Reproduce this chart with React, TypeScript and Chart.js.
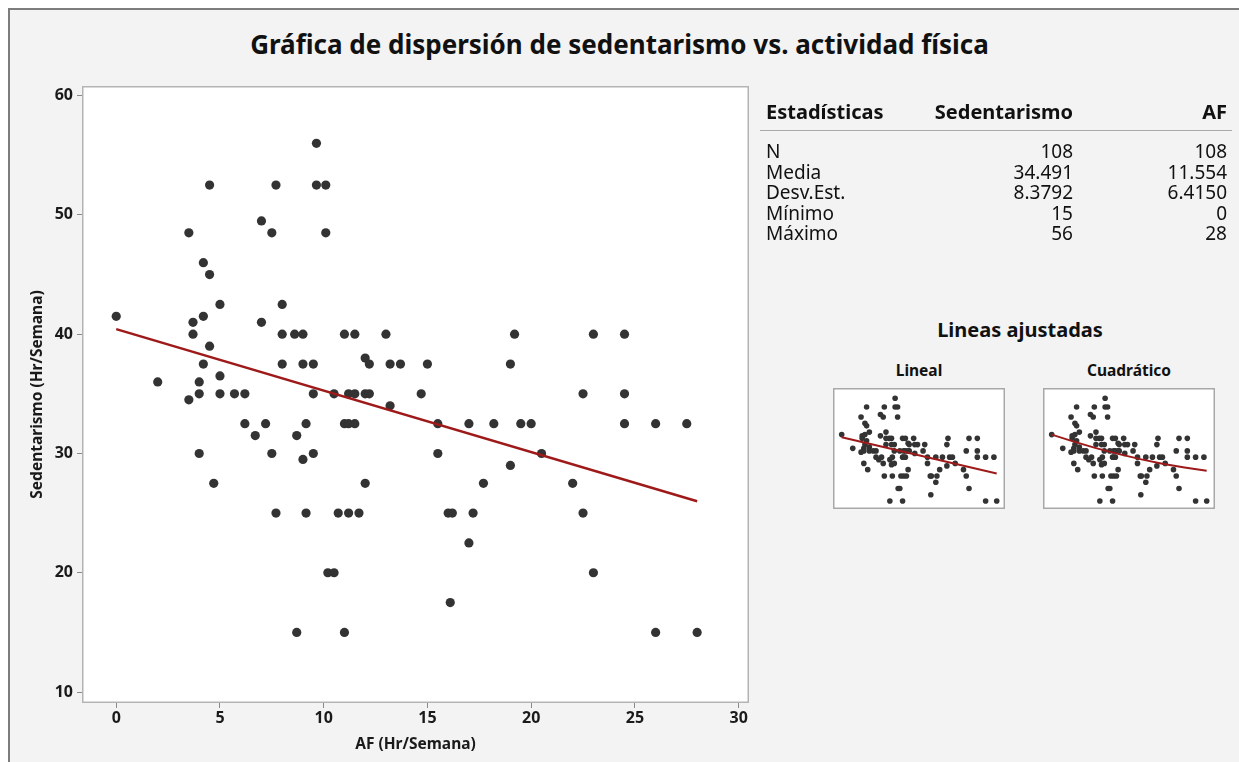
import React, { useEffect, useRef } from "react";
import { Chart, registerables } from "chart.js";
Chart.register(...registerables);

const FONT = "'Noto Sans', 'Open Sans', sans-serif";

const xTicks = [0, 5, 10, 15, 20, 25, 30];
const yTicks = [10, 20, 30, 40, 50, 60];

const afValues = [0, 2, 3.5, 3.5, 3.7, 3.7, 4, 4, 4, 4.2, 4.2, 4.2, 4.5, 4.5, 4.5, 4.7, 5, 5, 5, 5.7, 6.2, 6.2, 6.7, 7, 7, 7.2, 7.5, 7.5, 7.7, 7.7, 8, 8, 8, 8.6, 8.7, 8.7, 9, 9, 9, 9.15, 9.15, 9.5, 9.5, 9.5, 9.65, 9.65, 10.1, 10.1, 10.2, 10.5, 10.5, 10.7, 11, 11, 11, 11.2, 11.2, 11.2, 11.5, 11.5, 11.5, 11.7, 12, 12, 12, 12.2, 12.2, 13, 13.2, 13.2, 13.7, 14.7, 15, 15.5, 15.5, 16, 16.2, 16.1, 17, 17, 17.2, 17.7, 18.2, 19, 19, 19.2, 19.5, 20, 20.5, 22, 22.5, 22.5, 23, 23, 24.5, 24.5, 24.5, 26, 26, 27.5, 28];
const sedValues = [41.5, 36, 48.5, 34.5, 41, 40, 36, 35, 30, 46, 41.5, 37.5, 52.5, 45, 39, 27.5, 42.5, 36.5, 35, 35, 35, 32.5, 31.5, 49.5, 41, 32.5, 48.5, 30, 52.5, 25, 42.5, 40, 37.5, 40, 31.5, 15, 40, 37.5, 29.5, 32.5, 25, 37.5, 35, 30, 56, 52.5, 52.5, 48.5, 20, 20, 35, 25, 40, 32.5, 15, 35, 32.5, 25, 40, 35, 32.5, 25, 38, 35, 27.5, 37.5, 35, 40, 37.5, 34, 37.5, 35, 37.5, 32.5, 30, 25, 25, 17.5, 32.5, 22.5, 25, 27.5, 32.5, 37.5, 29, 40, 32.5, 32.5, 30, 27.5, 35, 25, 40, 20, 40, 35, 32.5, 32.5, 15, 32.5, 15];

const linFitX = [0, 28];
const linFitY = [40.43, 26.0];
const quadFitX = [0, 4, 8, 12, 16, 20, 24, 28];
const quadFitY = [41.5, 38.7, 36.1, 33.8, 31.7, 29.9, 28.4, 27.1];

const statNames = ["N", "Media", "Desv.Est.", "Mínimo", "Máximo"];
const statSed = ["108", "34.491", "8.3792", "15", "56"];
const statAF = ["108", "11.554", "6.4150", "0", "28"];

const POINT_COLOR = "#333333";
const LINE_COLOR = "#9e1a1a";

const pts = (xs: number[], ys: number[]) => xs.map((x, i) => ({ x, y: ys[i] }));

const framePlugin = (bg: string, border: string) => ({
  id: "frame",
  beforeDraw(chart: any) {
    const { ctx, chartArea: a } = chart;
    ctx.save();
    ctx.fillStyle = bg;
    ctx.fillRect(a.left, a.top, a.right - a.left, a.bottom - a.top);
    ctx.restore();
  },
  afterDraw(chart: any) {
    const { ctx, chartArea: a } = chart;
    ctx.save();
    ctx.strokeStyle = border;
    ctx.lineWidth = 1.5;
    ctx.strokeRect(a.left + 0.75, a.top + 0.75, a.right - a.left - 1.5, a.bottom - a.top - 1.5);
    ctx.restore();
  },
});

function MainChart() {
  const ref = useRef<HTMLCanvasElement>(null);
  useEffect(() => {
    const chart = new Chart(ref.current as HTMLCanvasElement, {
      type: "scatter",
      data: {
        datasets: [
          {
            type: "line",
            data: pts(linFitX, linFitY),
            borderColor: LINE_COLOR,
            borderWidth: 2.5,
            pointRadius: 0,
            fill: false,
          } as any,
          {
            data: pts(afValues, sedValues),
            backgroundColor: POINT_COLOR,
            borderColor: POINT_COLOR,
            pointRadius: 4.6,
            borderWidth: 0,
          },
        ],
      },
      options: {
        animation: false,
        responsive: false,
        events: [],
        layout: { autoPadding: false, padding: { top: 86, right: 21, left: 0, bottom: 0 } },
        plugins: { legend: { display: false }, tooltip: { enabled: false } },
        scales: {
          x: {
            type: "linear",
            min: -1.65,
            max: 30.5,
            afterBuildTicks: (s: any) => { s.ticks = xTicks.map((v) => ({ value: v })); },
            afterFit: (s: any) => { s.height = 59; },
            grid: { drawOnChartArea: false, drawTicks: true, tickLength: 5, color: "#8a8a8a" },
            border: { display: false },
            ticks: { font: { family: FONT, size: 16, weight: "bold" }, color: "#1a1a1a", padding: 1, maxRotation: 0 },
            title: { display: true, text: "AF (Hr/Semana)", font: { family: FONT, size: 15.5, weight: "bold" }, color: "#1a1a1a", padding: { top: 0, bottom: 8 } },
          },
          y: {
            type: "linear",
            min: 9.08,
            max: 60.81,
            afterBuildTicks: (s: any) => { s.ticks = yTicks.map((v) => ({ value: v })); },
            afterFit: (s: any) => { s.width = 82; },
            grid: { drawOnChartArea: false, drawTicks: true, tickLength: 5, color: "#8a8a8a" },
            border: { display: false },
            ticks: { font: { family: FONT, size: 16, weight: "bold" }, color: "#1a1a1a", padding: 4 },
            title: { display: true, text: "Sedentarismo (Hr/Semana)", font: { family: FONT, size: 15.5, weight: "bold" }, color: "#1a1a1a", padding: { top: 28, bottom: 0 } },
          },
        },
      },
      plugins: [framePlugin("#ffffff", "#b4b4b4")],
    });
    return () => chart.destroy();
  }, []);
  return <canvas ref={ref} width={770} height={762} style={{ position: "absolute", left: 0, top: 0 }} />;
}

function SmallChart({ fitX, fitY, left }: { fitX: number[]; fitY: number[]; left: number }) {
  const ref = useRef<HTMLCanvasElement>(null);
  useEffect(() => {
    const chart = new Chart(ref.current as HTMLCanvasElement, {
      type: "scatter",
      data: {
        datasets: [
          {
            type: "line",
            data: pts(fitX, fitY),
            borderColor: LINE_COLOR,
            borderWidth: 2,
            pointRadius: 0,
            fill: false,
          } as any,
          {
            data: pts(afValues, sedValues),
            backgroundColor: POINT_COLOR,
            pointRadius: 2.8,
            borderWidth: 0,
          },
        ],
      },
      options: {
        animation: false,
        responsive: false,
        events: [],
        layout: { autoPadding: false, padding: 0 },
        plugins: { legend: { display: false }, tooltip: { enabled: false } },
        scales: {
          x: { type: "linear", display: false, min: -1.57, max: 29.5 },
          y: { type: "linear", display: false, min: 11.8, max: 60.1 },
        },
      },
      plugins: [framePlugin("#ffffff", "#a8a8a8")],
    });
    return () => chart.destroy();
  }, []);
  return <canvas ref={ref} width={172} height={121} style={{ position: "absolute", left, top: 388 }} />;
}

const abs = (style: React.CSSProperties): React.CSSProperties => ({ position: "absolute", whiteSpace: "nowrap", ...style });

export default function App() {
  const rowTop = (i: number) => 151 + i * 20.5 - 12;
  return (
    <div style={{ position: "fixed", left: 0, top: 0, width: 1239, height: 762, background: "#ffffff", overflow: "hidden", fontFamily: FONT, color: "#111" }}>
      <div style={{ position: "absolute", left: 8, top: 8, width: 1300, height: 900, background: "#f3f3f3", border: "2px solid #7d7d7d" }} />
      <div style={abs({ left: 0, top: 27, width: 1239, height: 34, lineHeight: "34px", textAlign: "center", fontSize: 26, fontWeight: 700 })}>
        Gráfica de dispersión de sedentarismo vs. actividad física
      </div>
      <MainChart />
      <div style={abs({ left: 766, top: 98, lineHeight: "28px", fontSize: 20, fontWeight: 700 })}>Estadísticas</div>
      <div style={abs({ right: 1239 - 1073, top: 98, lineHeight: "28px", fontSize: 20, fontWeight: 700, textAlign: "right" })}>Sedentarismo</div>
      <div style={abs({ right: 1239 - 1227, top: 98, lineHeight: "28px", fontSize: 20, fontWeight: 700, textAlign: "right" })}>AF</div>
      <div style={abs({ left: 760, top: 130, width: 472, height: 1, background: "#a9a9a9" })} />
      {statNames.map((n, i) => (
        <React.Fragment key={n}>
          <div style={abs({ left: 766, top: rowTop(i), lineHeight: "24px", fontSize: 19 })}>{n}</div>
          <div style={abs({ right: 1239 - 1073, top: rowTop(i), lineHeight: "24px", fontSize: 19, textAlign: "right" })}>{statSed[i]}</div>
          <div style={abs({ right: 1239 - 1227, top: rowTop(i), lineHeight: "24px", fontSize: 19, textAlign: "right" })}>{statAF[i]}</div>
        </React.Fragment>
      ))}
      <div style={abs({ left: 820, width: 400, top: 315, lineHeight: "30px", fontSize: 20, fontWeight: 700, textAlign: "center" })}>Lineas ajustadas</div>
      <div style={abs({ left: 833, width: 172, top: 358, lineHeight: "24px", fontSize: 15.5, fontWeight: 700, textAlign: "center" })}>Lineal</div>
      <div style={abs({ left: 1043, width: 172, top: 358, lineHeight: "24px", fontSize: 15.5, fontWeight: 700, textAlign: "center" })}>Cuadrático</div>
      <SmallChart fitX={linFitX} fitY={linFitY} left={833} />
      <SmallChart fitX={quadFitX} fitY={quadFitY} left={1043} />
    </div>
  );
}
